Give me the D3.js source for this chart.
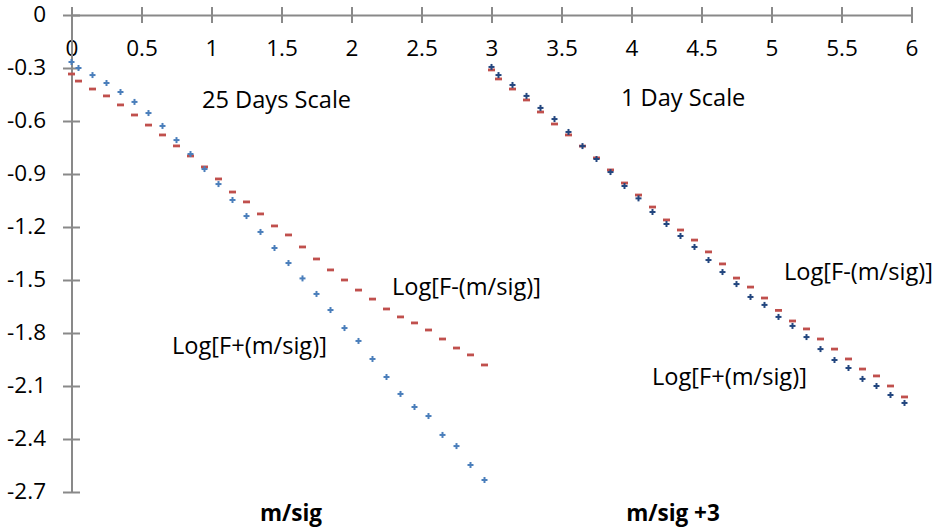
<!DOCTYPE html>
<html>
<head>
<meta charset="utf-8">
<script src="https://cdn.jsdelivr.net/npm/d3@7"></script>
<style>
  body { margin: 0; background: #fff; }
  svg { display: block; font-family: "Open Sans", sans-serif; }
</style>
</head>
<body>
<svg id="chart" width="933" height="531"></svg>
<script>
// x positions (m/sig), 25 day scale on the left, 1 day scale shifted by +3
const xLeft = [0, 0.05, 0.15, 0.25, 0.35, 0.45, 0.55, 0.65, 0.75, 0.85, 0.95, 1.05, 1.15, 1.25, 1.35, 1.45,
  1.55, 1.65, 1.75, 1.85, 1.95, 2.05, 2.15, 2.25, 2.35, 2.45, 2.55, 2.65, 2.75, 2.85, 2.95]
const xRight = [3, 3.05, 3.15, 3.25, 3.35, 3.45, 3.55, 3.65, 3.75, 3.85, 3.95, 4.05, 4.15, 4.25, 4.35, 4.45,
  4.55, 4.65, 4.75, 4.85, 4.95, 5.05, 5.15, 5.25, 5.35, 5.45, 5.55, 5.65, 5.75, 5.85, 5.95]

// Log[F+(m/sig)] and Log[F-(m/sig)], 25 days
const plus25 = [-0.266, -0.300, -0.340, -0.385, -0.436, -0.492, -0.555, -0.628, -0.708, -0.787, -0.872,
  -0.957, -1.047, -1.138, -1.228, -1.319, -1.404, -1.491, -1.579, -1.670, -1.772, -1.845, -1.947,
  -2.049, -2.145, -2.219, -2.270, -2.377, -2.440, -2.547, -2.632]
const minus25 = [-0.334, -0.374, -0.419, -0.458, -0.509, -0.566, -0.623, -0.679, -0.741, -0.798, -0.860,
  -0.928, -1.002, -1.058, -1.126, -1.194, -1.245, -1.313, -1.381, -1.443, -1.500, -1.557, -1.608,
  -1.664, -1.709, -1.743, -1.783, -1.834, -1.885, -1.924, -1.981]

// same, 1 day
const plus1 = [-0.294, -0.340, -0.396, -0.458, -0.526, -0.589, -0.662, -0.742, -0.815, -0.889, -0.968,
  -1.038, -1.115, -1.183, -1.251, -1.313, -1.387, -1.455, -1.523, -1.596, -1.641, -1.709, -1.760,
  -1.823, -1.891, -1.953, -1.998, -2.060, -2.100, -2.151, -2.196]
const minus1 = [-0.311, -0.362, -0.419, -0.481, -0.549, -0.617, -0.679, -0.742, -0.809, -0.877, -0.951,
  -1.019, -1.087, -1.160, -1.217, -1.274, -1.341, -1.409, -1.489, -1.540, -1.602, -1.672, -1.732,
  -1.777, -1.834, -1.891, -1.947, -2.004, -2.043, -2.100, -2.162]

const xTicks = [0, 0.5, 1, 1.5, 2, 2.5, 3, 3.5, 4, 4.5, 5, 5.5, 6]
const xTickLabels = ["0", "0.5", "1", "1.5", "2", "2.5", "3", "3.5", "4", "4.5", "5", "5.5", "6"]
const yTicks = [0, -0.3, -0.6, -0.9, -1.2, -1.5, -1.8, -2.1, -2.4, -2.7]
const yTickLabels = ["0", "-0.3", "-0.6", "-0.9", "-1.2", "-1.5", "-1.8", "-2.1", "-2.4", "-2.7"]

const svg = d3.select('#chart')
const axisColor = '#898989'

const x = d3.scaleLinear().domain([0, 6]).range([71.5, 911.5])
const y = d3.scaleLinear().domain([0, -2.7]).range([15, 492])

// x axis sits on y = 0, ticks cross the line, labels below
const gx = svg.append('g')
  .attr('transform', `translate(0,${y(0)})`)
  .call(d3.axisBottom(x).tickValues(xTicks).tickSizeOuter(0)
    .tickFormat((d, i) => xTickLabels[i]))
gx.select('.domain').attr('stroke', axisColor).attr('stroke-width', 2)
gx.selectAll('.tick line').attr('stroke', axisColor).attr('stroke-width', 2)
  .attr('y1', -8).attr('y2', 8)
gx.selectAll('.tick text').attr('y', 35).attr('dy', '0').attr('dominant-baseline', 'middle')
  .attr('font-size', 22.5).attr('font-family', '"Open Sans", sans-serif').attr('fill', '#000')

// y axis at x = 0
const gy = svg.append('g')
  .attr('transform', `translate(${x(0)},0)`)
  .call(d3.axisLeft(y).tickValues(yTicks).tickSizeOuter(0)
    .tickFormat((d, i) => yTickLabels[i]))
gy.select('.domain').attr('stroke', axisColor).attr('stroke-width', 2)
gy.selectAll('.tick line').attr('stroke', axisColor).attr('stroke-width', 2)
  .attr('x1', -8.5).attr('x2', 8.5)
gy.selectAll('.tick text').attr('x', -25.5).attr('dy', '0').attr('dominant-baseline', 'middle')
  .attr('font-size', 22.5).attr('font-family', '"Open Sans", sans-serif').attr('fill', '#000')

// markers
function plusMarks(xs, ys, color) {
  const g = svg.append('g').attr('stroke', color).attr('stroke-width', 2)
  xs.forEach((xv, i) => {
    const cx = x(xv), cy = y(ys[i])
    g.append('line').attr('x1', cx - 3).attr('x2', cx + 3).attr('y1', cy).attr('y2', cy)
    g.append('line').attr('x1', cx).attr('x2', cx).attr('y1', cy - 3).attr('y2', cy + 3)
  })
}
function dashMarks(xs, ys, color) {
  svg.append('g').selectAll('rect').data(xs).enter().append('rect')
    .attr('x', d => x(d) - 3.5)
    .attr('y', (d, i) => y(ys[i]) - 1.4)
    .attr('width', 7).attr('height', 2.8)
    .attr('fill', color)
}

dashMarks(xLeft, minus25, '#C0504D')
plusMarks(xLeft, plus25, '#4A7EBB')
dashMarks(xRight, minus1, '#C0504D')
plusMarks(xRight, plus1, '#23467F')

// labels
const labels = [
  { t: '25 Days Scale', x: 202, y: 108 },
  { t: '1 Day Scale', x: 621, y: 106 },
  { t: 'Log[F-(m/sig)]', x: 392, y: 295 },
  { t: 'Log[F+(m/sig)]', x: 172, y: 354 },
  { t: 'Log[F-(m/sig)]', x: 784, y: 280 },
  { t: 'Log[F+(m/sig)]', x: 652, y: 385 }
]
svg.selectAll('text.lab').data(labels).enter().append('text')
  .attr('class', 'lab')
  .attr('x', d => d.x).attr('y', d => d.y)
  .attr('font-size', 23.6)
  .text(d => d.t)

svg.append('text').attr('x', 291).attr('y', 521).attr('text-anchor', 'middle')
  .attr('font-size', 22.5).attr('font-weight', 'bold').text('m/sig')
svg.append('text').attr('x', 673).attr('y', 521).attr('text-anchor', 'middle')
  .attr('font-size', 22.5).attr('font-weight', 'bold').text('m/sig +3')
</script>
</body>
</html>
